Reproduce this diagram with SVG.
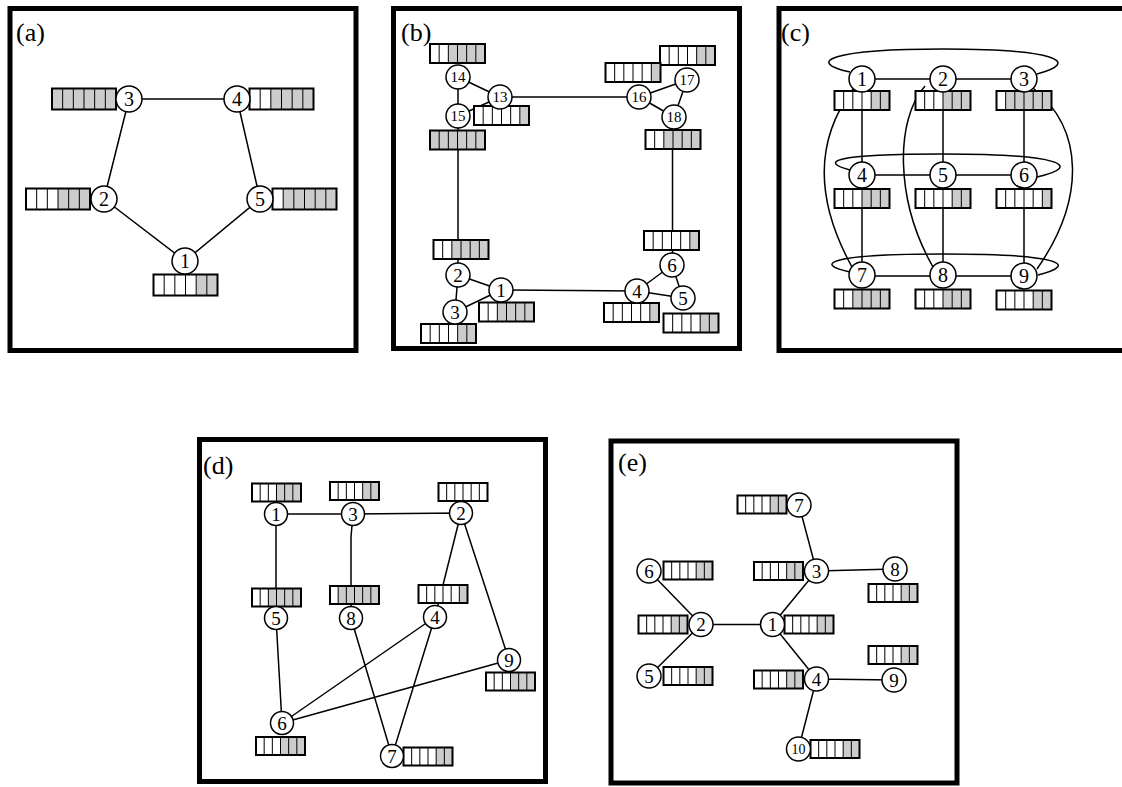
<svg xmlns="http://www.w3.org/2000/svg" width="1122" height="787" viewBox="0 0 1122 787">
<style>
.f{fill:none;stroke:#000;stroke-width:5}
.e{fill:none;stroke:#000;stroke-width:1.5}
circle{fill:#fff;stroke:#000;stroke-width:1.5}
text{font-family:"Liberation Serif","Times New Roman",serif;fill:#000}
.t{text-anchor:middle}
.s18{font-size:20px}
.s17{font-size:19px}
.s14{font-size:15px}
.s13{font-size:14px}
.lbl{font-size:26px}
.w{fill:#fff}
.gr{fill:#cccccc}
.grid{fill:none;stroke:#000}
</style>
<defs>
<g id="gA" class="grid"><path d="M10.67 0V21M21.33 0V21M32 0V21M42.67 0V21M53.33 0V21" stroke-width="1"/><rect width="64" height="21" stroke-width="2"/></g>
<g id="gB" class="grid"><path d="M9.17 0V19M18.33 0V19M27.5 0V19M36.67 0V19M45.83 0V19" stroke-width="1"/><rect width="55" height="19" stroke-width="2"/></g>
<g id="gC" class="grid"><path d="M8.17 0V18M16.33 0V18M24.5 0V18M32.67 0V18M40.83 0V18" stroke-width="1"/><rect width="49" height="18" stroke-width="2"/></g>
</defs>
<rect width="1122" height="787" fill="#fff"/>

<g id="frames">
<rect class="f" x="10" y="8.5" width="346" height="342"/>
<rect class="f" x="393.5" y="8.5" width="346" height="340"/>
<rect class="f" x="779" y="8.5" width="346" height="342"/>
<rect class="f" x="199.5" y="439.5" width="346" height="342"/>
<rect class="f" x="611" y="441" width="346" height="342"/>
<text class="lbl" x="16" y="41">(a)</text>
<text class="lbl" x="401" y="41">(b)</text>
<text class="lbl" x="781" y="41">(c)</text>
<text class="lbl" x="203" y="474">(d)</text>
<text class="lbl" x="618" y="471">(e)</text>
</g>

<g id="connectors" class="e">
<path d="M129 99L237 99M129 99L104 199M237 99L260 199M104 199L185 261M260 199L185 261"/>
<path d="M458 77L500 97M458 77L458 116M458 116L500 97M500 97L639 97M639 97L687 80M639 97L674 117M687 80L674 117M458 116L458 275M672.5 117L672.5 265M458 275L501 290M458 275L455 312M455 312L501 290M501 290L637 291M637 291L672 265M637 291L683 298M672 265L683 298"/>
<path d="M862 79L1024 79M862 175L1024 175M862 276L1024 276M862 79L862 276M943 79L943 276M1024 79L1024 276"/>
<path d="M850 72C805 62 830 49 943 49C1056 49 1082 62 1037 74"/>
<path d="M850 170C820 162 830 154 943 154C1060 154 1085 166 1037 177"/>
<path d="M850 272C812 264 830 254 943 254C1056 254 1082 264 1038 275"/>
<path d="M853 89C815 140 815 200 852 267"/>
<path d="M925 86C895 120 895 200 933 267"/>
<path d="M1033 88C1085 130 1085 200 1037 269"/>
<path d="M276 514L353 514M353 514L461 513M276 514L276 618M353 514L351 537L351 618M461 513L435 617M461 513L509 660M276 618L282 723M351 618L392 756M435 617L282 723M435 617L392 756M509 660L282 723"/>
<path d="M799 505L816.5 571M816.5 571L895 569M816.5 571L772.5 624.5M649 571L701 624.5M701 624.5L772.5 624.5M701 624.5L649 676M772.5 624.5L816.5 679M816.5 679L894 680M816.5 679L798.5 749"/>
</g>

<g id="a-n3"><g transform="translate(52,88.5)"><rect class="w" width="64" height="21"/><rect class="gr" x="0" width="64" height="21"/><use href="#gA"/></g><circle cx="129" cy="99" r="13"/><text class="t s18" x="129" y="106">3</text></g>
<g id="a-n4"><g transform="translate(249.5,88.5)"><rect class="w" width="64" height="21"/><rect class="gr" x="21.33" width="42.67" height="21"/><use href="#gA"/></g><circle cx="237" cy="99" r="13"/><text class="t s18" x="237" y="106">4</text></g>
<g id="a-n2"><g transform="translate(26,188.5)"><rect class="w" width="64" height="21"/><rect class="gr" x="32" width="32" height="21"/><use href="#gA"/></g><circle cx="104" cy="199" r="13"/><text class="t s18" x="104" y="206">2</text></g>
<g id="a-n5"><g transform="translate(272.5,188.5)"><rect class="w" width="64" height="21"/><rect class="gr" x="10.67" width="53.33" height="21"/><use href="#gA"/></g><circle cx="260" cy="199" r="13"/><text class="t s18" x="260" y="206">5</text></g>
<g id="a-n1"><g transform="translate(153.5,274.5)"><rect class="w" width="64" height="21"/><rect class="gr" x="42.67" width="21.33" height="21"/><use href="#gA"/></g><circle cx="185" cy="261" r="13"/><text class="t s18" x="185" y="268">1</text></g>

<g id="b-n14"><g transform="translate(430,44)"><rect class="w" width="55" height="19"/><rect class="gr" x="18.33" width="36.67" height="19"/><use href="#gB"/></g><circle cx="458" cy="77" r="12"/><text class="t s14" x="458" y="82">14</text></g>
<g id="b-n15"><g transform="translate(430,130.5)"><rect class="w" width="55" height="19"/><rect class="gr" x="0" width="55" height="19"/><use href="#gB"/></g><circle cx="458" cy="116" r="12"/><text class="t s14" x="458" y="121">15</text></g>
<g id="b-n13"><g transform="translate(474,106)"><rect class="w" width="55" height="19"/><rect class="gr" x="45.83" width="9.17" height="19"/><use href="#gB"/></g><circle cx="500" cy="97" r="12"/><text class="t s14" x="500" y="102">13</text></g>
<g id="b-n17"><g transform="translate(660,46)"><rect class="w" width="55" height="19"/><rect class="gr" x="36.67" width="18.33" height="19"/><use href="#gB"/></g><circle cx="687" cy="80" r="12"/><text class="t s14" x="687" y="85">17</text></g>
<g id="b-n16"><g transform="translate(605.5,63)"><rect class="w" width="55" height="19"/><rect class="gr" x="45.83" width="9.17" height="19"/><use href="#gB"/></g><circle cx="639" cy="97" r="12"/><text class="t s14" x="639" y="102">16</text></g>
<g id="b-n18"><g transform="translate(645.5,130)"><rect class="w" width="55" height="19"/><rect class="gr" x="18.33" width="36.67" height="19"/><use href="#gB"/></g><circle cx="674" cy="117" r="12"/><text class="t s14" x="674" y="122">18</text></g>
<g id="b-n2"><g transform="translate(433.5,240)"><rect class="w" width="55" height="19"/><rect class="gr" x="18.33" width="36.67" height="19"/><use href="#gB"/></g><circle cx="458" cy="275" r="12"/><text class="t s17" x="458" y="281.5">2</text></g>
<g id="b-n1"><g transform="translate(479,302.5)"><rect class="w" width="55" height="19"/><rect class="gr" x="18.33" width="36.67" height="19"/><use href="#gB"/></g><circle cx="501" cy="290" r="12"/><text class="t s17" x="501" y="296.5">1</text></g>
<g id="b-n3"><g transform="translate(421,324)"><rect class="w" width="55" height="19"/><rect class="gr" x="36.67" width="18.33" height="19"/><use href="#gB"/></g><circle cx="455" cy="312" r="12"/><text class="t s17" x="455" y="318.5">3</text></g>
<g id="b-n6"><g transform="translate(644,231)"><rect class="w" width="55" height="19"/><rect class="gr" x="45.83" width="9.17" height="19"/><use href="#gB"/></g><circle cx="672" cy="265" r="12"/><text class="t s17" x="672" y="271.5">6</text></g>
<g id="b-n4"><g transform="translate(604,303)"><rect class="w" width="55" height="19"/><rect class="gr" x="45.83" width="9.17" height="19"/><use href="#gB"/></g><circle cx="637" cy="291" r="12"/><text class="t s17" x="637" y="297.5">4</text></g>
<g id="b-n5"><g transform="translate(663.5,313.5)"><rect class="w" width="55" height="19"/><rect class="gr" x="36.67" width="18.33" height="19"/><use href="#gB"/></g><circle cx="683" cy="298" r="12"/><text class="t s17" x="683" y="304.5">5</text></g>

<g id="c-n1"><g transform="translate(834.5,91)"><rect class="w" width="55" height="19"/><rect class="gr" x="36.67" width="18.33" height="19"/><use href="#gB"/></g><circle cx="862" cy="79" r="13"/><text class="t s18" x="862" y="86">1</text></g>
<g id="c-n2"><g transform="translate(915.5,91)"><rect class="w" width="55" height="19"/><rect class="gr" x="27.5" width="27.5" height="19"/><use href="#gB"/></g><circle cx="943" cy="79" r="13"/><text class="t s18" x="943" y="86">2</text></g>
<g id="c-n3"><g transform="translate(996.5,91)"><rect class="w" width="55" height="19"/><rect class="gr" x="9.17" width="45.83" height="19"/><use href="#gB"/></g><circle cx="1024" cy="79" r="13"/><text class="t s18" x="1024" y="86">3</text></g>
<g id="c-n4"><g transform="translate(834.5,189)"><rect class="w" width="55" height="19"/><rect class="gr" x="27.5" width="27.5" height="19"/><use href="#gB"/></g><circle cx="862" cy="175" r="13"/><text class="t s18" x="862" y="182">4</text></g>
<g id="c-n5"><g transform="translate(915.5,189)"><rect class="w" width="55" height="19"/><rect class="gr" x="36.67" width="18.33" height="19"/><use href="#gB"/></g><circle cx="943" cy="175" r="13"/><text class="t s18" x="943" y="182">5</text></g>
<g id="c-n6"><g transform="translate(996.5,189)"><rect class="w" width="55" height="19"/><rect class="gr" x="45.83" width="9.17" height="19"/><use href="#gB"/></g><circle cx="1024" cy="175" r="13"/><text class="t s18" x="1024" y="182">6</text></g>
<g id="c-n7"><g transform="translate(834.5,289.5)"><rect class="w" width="55" height="19"/><rect class="gr" x="18.33" width="36.67" height="19"/><use href="#gB"/></g><circle cx="862" cy="275" r="13"/><text class="t s18" x="862" y="282">7</text></g>
<g id="c-n8"><g transform="translate(915.5,289.5)"><rect class="w" width="55" height="19"/><rect class="gr" x="27.5" width="27.5" height="19"/><use href="#gB"/></g><circle cx="943" cy="275" r="13"/><text class="t s18" x="943" y="282">8</text></g>
<g id="c-n9"><g transform="translate(996.5,290.5)"><rect class="w" width="55" height="19"/><rect class="gr" x="36.67" width="18.33" height="19"/><use href="#gB"/></g><circle cx="1024" cy="276" r="13"/><text class="t s18" x="1024" y="283">9</text></g>

<g id="d-n1"><g transform="translate(252,483.5)"><rect class="w" width="49" height="18"/><rect class="gr" x="24.5" width="24.5" height="18"/><use href="#gC"/></g><circle cx="276" cy="514" r="11.5"/><text class="t s17" x="276" y="520.5">1</text></g>
<g id="d-n3"><g transform="translate(330,482)"><rect class="w" width="49" height="18"/><rect class="gr" x="32.67" width="16.33" height="18"/><use href="#gC"/></g><circle cx="353" cy="514" r="11.5"/><text class="t s17" x="353" y="520.5">3</text></g>
<g id="d-n2"><g transform="translate(438.5,483)"><rect class="w" width="49" height="18"/><use href="#gC"/></g><circle cx="461" cy="513" r="11.5"/><text class="t s17" x="461" y="519.5">2</text></g>
<g id="d-n5"><g transform="translate(252,588.5)"><rect class="w" width="49" height="18"/><rect class="gr" x="16.33" width="32.67" height="18"/><use href="#gC"/></g><circle cx="276" cy="618" r="11.5"/><text class="t s17" x="276" y="624.5">5</text></g>
<g id="d-n8"><g transform="translate(330,586)"><rect class="w" width="49" height="18"/><rect class="gr" x="8.17" width="40.83" height="18"/><use href="#gC"/></g><circle cx="351" cy="618" r="11.5"/><text class="t s17" x="351" y="624.5">8</text></g>
<g id="d-n4"><g transform="translate(418.5,585)"><rect class="w" width="49" height="18"/><rect class="gr" x="40.83" width="8.17" height="18"/><use href="#gC"/></g><circle cx="435" cy="617" r="11.5"/><text class="t s17" x="435" y="623.5">4</text></g>
<g id="d-n9"><g transform="translate(486,672.5)"><rect class="w" width="49" height="18"/><rect class="gr" x="24.5" width="24.5" height="18"/><use href="#gC"/></g><circle cx="509" cy="660" r="11.5"/><text class="t s17" x="509" y="666.5">9</text></g>
<g id="d-n6"><g transform="translate(256,737)"><rect class="w" width="49" height="18"/><rect class="gr" x="24.5" width="24.5" height="18"/><use href="#gC"/></g><circle cx="282" cy="723" r="11.5"/><text class="t s17" x="282" y="729.5">6</text></g>
<g id="d-n7"><g transform="translate(403.5,747.5)"><rect class="w" width="49" height="18"/><rect class="gr" x="32.67" width="16.33" height="18"/><use href="#gC"/></g><circle cx="392" cy="756" r="11.5"/><text class="t s17" x="392" y="762.5">7</text></g>

<g id="e-n7"><g transform="translate(737.5,495.5)"><rect class="w" width="49" height="18"/><rect class="gr" x="32.67" width="16.33" height="18"/><use href="#gC"/></g><circle cx="799" cy="505" r="12"/><text class="t s17" x="799" y="511.5">7</text></g>
<g id="e-n3"><g transform="translate(754,562)"><rect class="w" width="49" height="18"/><rect class="gr" x="32.67" width="16.33" height="18"/><use href="#gC"/></g><circle cx="816.5" cy="571" r="12"/><text class="t s17" x="816.5" y="577.5">3</text></g>
<g id="e-n8"><g transform="translate(868.5,584)"><rect class="w" width="49" height="18"/><rect class="gr" x="32.67" width="16.33" height="18"/><use href="#gC"/></g><circle cx="895" cy="569" r="12"/><text class="t s17" x="895" y="575.5">8</text></g>
<g id="e-n6"><g transform="translate(663.5,561.5)"><rect class="w" width="49" height="18"/><rect class="gr" x="32.67" width="16.33" height="18"/><use href="#gC"/></g><circle cx="649" cy="571" r="12"/><text class="t s17" x="649" y="577.5">6</text></g>
<g id="e-n2"><g transform="translate(638.5,615.5)"><rect class="w" width="49" height="18"/><rect class="gr" x="32.67" width="16.33" height="18"/><use href="#gC"/></g><circle cx="701" cy="624.5" r="12"/><text class="t s17" x="701" y="631">2</text></g>
<g id="e-n1"><g transform="translate(784.5,615.5)"><rect class="w" width="49" height="18"/><rect class="gr" x="32.67" width="16.33" height="18"/><use href="#gC"/></g><circle cx="772.5" cy="624.5" r="12"/><text class="t s17" x="772.5" y="631">1</text></g>
<g id="e-n5"><g transform="translate(663.5,667)"><rect class="w" width="49" height="18"/><rect class="gr" x="32.67" width="16.33" height="18"/><use href="#gC"/></g><circle cx="649" cy="676" r="12"/><text class="t s17" x="649" y="682.5">5</text></g>
<g id="e-n4"><g transform="translate(754,670.5)"><rect class="w" width="49" height="18"/><rect class="gr" x="32.67" width="16.33" height="18"/><use href="#gC"/></g><circle cx="816.5" cy="679" r="12"/><text class="t s17" x="816.5" y="685.5">4</text></g>
<g id="e-n9"><g transform="translate(868.5,646)"><rect class="w" width="49" height="18"/><rect class="gr" x="32.67" width="16.33" height="18"/><use href="#gC"/></g><circle cx="894" cy="680" r="12"/><text class="t s17" x="894" y="686.5">9</text></g>
<g id="e-n10"><g transform="translate(810.5,740)"><rect class="w" width="49" height="18"/><rect class="gr" x="32.67" width="16.33" height="18"/><use href="#gC"/></g><circle cx="798.5" cy="749" r="12"/><text class="t s13" x="798.5" y="754">10</text></g>
</svg>
